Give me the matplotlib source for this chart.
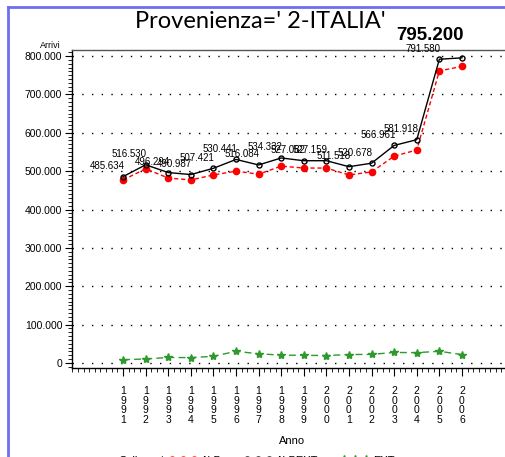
import matplotlib
matplotlib.use("Agg")
import matplotlib.pyplot as plt
from matplotlib.lines import Line2D
from matplotlib.ticker import FuncFormatter, MultipleLocator

# values
YEARS = list(range(1991, 2007))
ALBEXT = [485634, 516530, 496294, 490987, 507421, 530441, 516084, 534332,
          527082, 527159, 511518, 520678, 566961, 581918, 791580, 795200]
ALB = [477000, 506000, 482000, 477000, 490000, 500000, 492000, 513000,
       508000, 508000, 490000, 498000, 539000, 555000, 761000, 773000]
EXT = [8500, 10500, 14500, 14000, 17500, 30500, 24000, 20500,
       20000, 19500, 22000, 22500, 27500, 27000, 30500, 22000]
LABELS = ["485.634", "516.530", "496.294", "490.987", "507.421", "530.441",
          "516.084", "534.332", "527.082", "527.159", "511.518", "520.678",
          "566.961", "581.918", "791.580", "795.200"]

NARROW = "Liberation Sans"
W, H = 506, 457

fig = plt.figure(figsize=(W / 100, H / 100), dpi=100)

# blue window border (top and left)
fig.add_artist(Line2D([8 / W, 8 / W], [0, 1 - 7 / H], color="#6e6ef0", lw=2))
fig.add_artist(Line2D([8 / W, 1], [1 - 7 / H, 1 - 7 / H], color="#6e6ef0", lw=2))

ax = fig.add_axes([72 / W, (H - 368) / H, (W - 72) / W, (368 - 50) / H])
ax.set_xlim(1988.74, 2007.95)
ax.set_ylim(-13029, 815635)
ax.spines["right"].set_visible(False)
for s in ("left", "bottom", "top"):
    ax.spines[s].set_linewidth(1.0)
ax.spines["top"].set_color("#555555")

# dotted grid at each major y tick
for v in range(0, 800001, 100000):
    ax.axhline(v, color="black", lw=1.0, ls=(0, (1, 6)), zorder=0)

ax.plot(YEARS, EXT, color="#2e9a2e", lw=1, ls=(0, (5, 3)), marker="*",
        ms=6, mfc="#2e9a2e", mec="#2e9a2e")
ax.plot(YEARS, ALB, color="red", lw=1, ls=(0, (3, 2)), marker="o", ms=4.5,
        mfc="red", mec="red")
ax.plot(YEARS, ALBEXT, color="black", lw=1, marker="o", ms=3.6,
        mfc="none", mec="black", mew=1)

for i, (x, y, t) in enumerate(zip(YEARS, ALBEXT, LABELS)):
    if i == len(YEARS) - 1:
        ax.annotate(t, (x, y), xytext=(1, 10), textcoords="offset points",
                    ha="right", va="bottom", fontsize=13.5, fontweight="bold",
                    family="Liberation Sans")
    else:
        ax.annotate(t, (x, y), xytext=(1, 4), textcoords="offset points",
                    ha="right", va="bottom", fontsize=7, family="Liberation Sans")

ax.yaxis.set_major_locator(MultipleLocator(100000))
ax.yaxis.set_minor_locator(MultipleLocator(10000))
ax.yaxis.set_major_formatter(FuncFormatter(
    lambda v, p: "0" if v == 0 else f"{v / 1000:.3f}"))
ax.tick_params(axis="y", which="major", length=5, labelsize=7.5, pad=2)
ax.tick_params(axis="y", which="minor", length=3)
for lab in ax.get_yticklabels():
    lab.set_family(NARROW)

ax.set_xticks(YEARS)
ax.set_xticklabels(["\n".join(str(y)) for y in YEARS], fontsize=7.5,
                   linespacing=0.95, family=NARROW)
ax.xaxis.set_minor_locator(MultipleLocator(0.25))
ax.tick_params(axis="x", which="major", length=6, pad=7)
ax.tick_params(axis="x", which="minor", length=3)

ax.text(-0.05, 1.0, "Arrivi", transform=ax.transAxes, ha="center", va="bottom",
        fontsize=6.5, family=NARROW)
fig.text(292 / W, 1 - 441 / H, "Anno", ha="center", va="center",
         fontsize=8, family=NARROW)

fig.text(260 / W, 1 - 22 / H, "Provenienza=' 2-ITALIA'", ha="center",
         va="center", fontsize=17, color="black", family="Lato")

# legend, mostly cut off by the lower edge
fig.text(118 / W, 1 - 461 / H, "Collocazione", ha="left", va="center",
         fontsize=8, family=NARROW)
handles = [
    Line2D([], [], color="red", ls="none", marker="o", ms=5, mfc="red", mec="red"),
    Line2D([], [], color="black", ls="none", marker="o", ms=5, mfc="none", mec="black"),
    Line2D([], [], color="#2e9a2e", ls="none", marker="*", ms=7, mfc="#2e9a2e", mec="#2e9a2e"),
]
fig.legend(handles, ["ALB", "ALBEXT", "EXT"], loc="center left",
           bbox_to_anchor=(163 / W, 1 - 461 / H), ncol=3, frameon=False,
           numpoints=3, handlelength=2.6, handletextpad=0.3, columnspacing=2.0,
           prop={"family": NARROW, "size": 8}, borderpad=0)

fig.savefig("out.png", dpi=100)
